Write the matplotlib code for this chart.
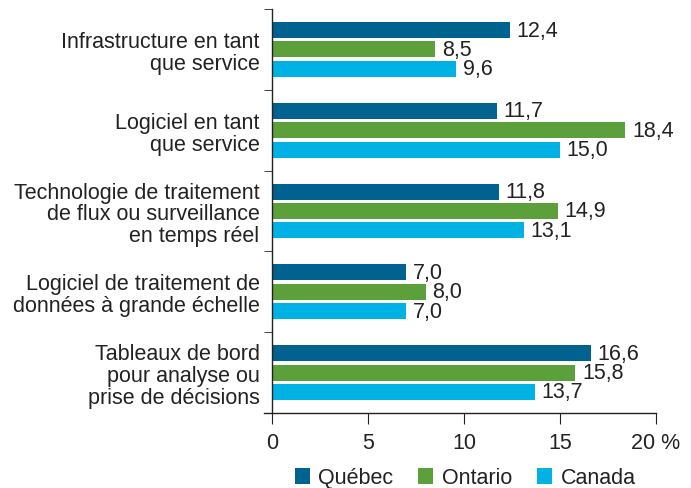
import matplotlib
matplotlib.use("Agg")
import matplotlib.pyplot as plt
from matplotlib.patches import Patch
import numpy as np

plt.rcParams['font.family'] = ['Liberation Sans', 'DejaVu Sans']

categories = [
    "Infrastructure en tant\nque service",
    "Logiciel en tant\nque service",
    "Technologie de traitement\nde flux ou surveillance\nen temps réel",
    "Logiciel de traitement de\ndonnées à grande échelle",
    "Tableaux de bord\npour analyse ou\nprise de décisions",
]
series_names = ["Québec", "Ontario", "Canada"]
quebec = [12.4, 11.7, 11.8, 7.0, 16.6]
ontario = [8.5, 18.4, 14.9, 8.0, 15.8]
canada = [9.6, 15.0, 13.1, 7.0, 13.7]
xticks = [0, 5, 10, 15, 20]
xticklabels = ["0", "5", "10", "15", "20 %"]

colors = ["#00628F", "#5BA03A", "#00B2E3"]
FS = 15.5

fig = plt.figure(figsize=(6.91, 4.89), dpi=100)
ax = fig.add_axes([264/691, 1-414/489, (656-264)/691, (414-10)/489])

n = len(categories)
y = np.arange(n)
h = 0.2
gap = 0.04
offsets = [-(h + gap), 0, (h + gap)]
for vals, off, c in zip([quebec, ontario, canada], offsets, colors):
    ax.barh(y + off, vals, height=h, color=c)
    for yy, v in zip(y + off, vals):
        ax.text(v + 0.35, yy, f"{v:.1f}".replace(".", ","), va="center", ha="left",
                fontsize=FS, color="#222222")

ax.set_ylim(n - 0.5, -0.5)
ax.set_xlim(-0.42, 20)
ax.spines['left'].set_position(('data', 0))
ax.spines['top'].set_visible(False)
ax.spines['right'].set_visible(False)
for s in ['left', 'bottom']:
    ax.spines[s].set_color("#222222")
    ax.spines[s].set_linewidth(1.0)

ax.set_yticks(y)
ax.set_yticklabels(categories, fontsize=FS, color="#222222", linespacing=1.05)
ax.tick_params(axis='y', which='major', length=0, pad=9)
ax.set_yticks(np.arange(n + 1) - 0.5, minor=True)
ax.tick_params(axis='y', which='minor', length=6, direction='out', color="#222222")

ax.set_xticks(xticks)
ax.set_xticklabels(xticklabels, fontsize=FS, color="#222222")
ax.tick_params(axis='x', length=8, direction='out', color="#222222", pad=6)

handles = [Patch(facecolor=c, label=l) for c, l in zip(colors, series_names)]
fig.legend(handles=handles, loc='center', bbox_to_anchor=(465/691, 1-479/489), ncol=3,
           frameon=False, fontsize=FS, handlelength=0.7, handleheight=0.7,
           handletextpad=0.4, columnspacing=1.15, labelcolor="#222222",
           borderpad=0, borderaxespad=0)

fig.savefig("out.png", dpi=100)
